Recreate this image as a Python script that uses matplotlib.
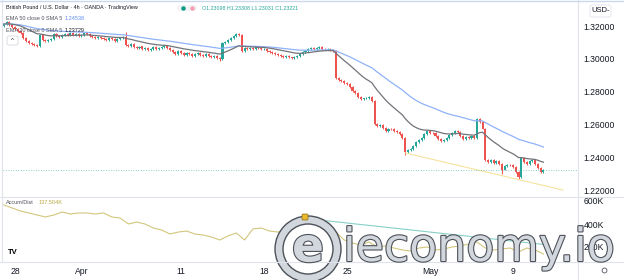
import numpy as np
import pandas as pd
import matplotlib
matplotlib.use('Agg')
import matplotlib.pyplot as plt
from matplotlib import patheffects
from matplotlib.patches import Circle, FancyBboxPatch

# GBPUSD 4h closes (one per candle)
closes = [
    1.3212, 1.3224, 1.3206, 1.3194,
    1.3182, 1.3170, 1.3157, 1.3127, 1.3109, 1.3096, 1.3090, 1.3084, 1.3078,
    1.3145,
    1.3115, 1.3109, 1.3115, 1.3121,
    1.3151,
    1.3140, 1.3133, 1.3145, 1.3150, 1.3142, 1.3155,
    1.3148, 1.3152, 1.3140, 1.3145, 1.3158, 1.3150,
    1.3138, 1.3130, 1.3124, 1.3133, 1.3127, 1.3120,
    1.3115, 1.3125, 1.3118, 1.3110, 1.3122, 1.3128, 1.3135,
    1.3084,
    1.3078, 1.3090, 1.3072, 1.3066, 1.3075, 1.3060, 1.3068, 1.3055, 1.3062, 1.3070, 1.3058, 1.3065,
    1.3070, 1.3078, 1.3064, 1.3052,
    1.3040, 1.3030, 1.3045, 1.3035, 1.3022, 1.3038, 1.3028, 1.3018, 1.3030, 1.3034, 1.3025, 1.3015,
    1.3030, 1.3020, 1.3008, 1.3015, 1.3002, 1.2998,
    1.3096,
    1.3100, 1.3115, 1.3128, 1.3140, 1.3150,
    1.3148,
    1.3050,
    1.3068, 1.3060, 1.3066, 1.3062, 1.3070, 1.3064, 1.3058, 1.3062,
    1.3050, 1.3042, 1.3038, 1.3030, 1.3024, 1.3020, 1.3012, 1.3018, 1.3008, 1.3004, 1.3010,
    1.3015, 1.3028, 1.3040, 1.3048, 1.3060, 1.3065, 1.3058, 1.3066,
    1.3070, 1.3062, 1.3058, 1.3060, 1.3052, 1.3048,
    1.2883,
    1.2870, 1.2862, 1.2850, 1.2845, 1.2830,
    1.2805, 1.2790, 1.2770, 1.2752,
    1.2758, 1.2762, 1.2770,
    1.2745,
    1.2600,
    1.2590, 1.2598, 1.2580, 1.2560, 1.2575, 1.2570, 1.2560, 1.2555, 1.2540,
    1.2520, 1.2430,
    1.2445, 1.2450, 1.2470, 1.2490, 1.2505, 1.2520,
    1.2540, 1.2560, 1.2550, 1.2545,
    1.2530, 1.2510, 1.2500, 1.2505,
    1.2520, 1.2535, 1.2545, 1.2560, 1.2555,
    1.2530, 1.2510, 1.2525, 1.2515, 1.2530,
    1.2515,
    1.2630, 1.2615, 1.2575,
    1.2385,
    1.2370, 1.2380, 1.2365, 1.2375, 1.2360,
    1.2325,
    1.2345, 1.2355, 1.2350, 1.2340,
    1.2310, 1.2280,
    1.2395,
    1.2370, 1.2360, 1.2375, 1.2380,
    1.2360, 1.2335, 1.2310,
    1.2322,
]
first_open = 1.3200
# notable wick extremes
high_marks = {44: 1.3163, 85: 1.3160, 171: 1.2640, 79: 1.3100}
low_marks = {145: 1.2415, 180: 1.2300, 186: 1.2265, 78: 1.2985}

# Accum/Dist, every third candle (K)
ad_idx = list(range(0, 196, 3))
ad_vals = [565, 539, 513, 496, 478, 461, 478, 504, 487, 496,
           496, 487, 496, 461, 452, 400, 417, 400, 365, 348,
           313, 330, 339, 313, 304, 287, 261, 296, 322, 261,
           357, 365, 339, 330, 348, 365, 417, 435, 417, 400,
           330, 261, 235, 217, 243, 200, 209, 191, 174, 165,
           191, 200, 174, 183, 200, 209, 226, 243, 191, 174,
           183, 191, 157, 191, 174, 139]

price_ticks = [1.22, 1.24, 1.26, 1.28, 1.30, 1.32]
ad_ticks = [200, 400, 600]
day_idx = [4, 28, 64, 94, 124, 154, 184]
day_labels = ['28', 'Apr', '11', '18', '25', 'May', '9']

trend_x, trend_y = [145, 202], [1.2426, 1.2200]
ad_trend_x, ad_trend_y = [114, 197], [435, 217]

W, H = 624, 280
UP, DOWN = '#26a69a', '#ef5350'
TXT = '#131722'
FONT = 'Liberation Sans'

fig = plt.figure(figsize=(W / 100, H / 100), dpi=100)


def box(x0, y0, x1, y1):
    return [x0 / W, 1 - y1 / H, (x1 - x0) / W, (y1 - y0) / H]


ax = fig.add_axes(box(3, 0, 578, 197))
adx = fig.add_axes(box(3, 197, 578, 262))

c = np.array(closes)
o = np.array([first_open] + closes[:-1])
idx = np.arange(len(c))
hi = np.maximum(o, c) + 0.0006
lo = np.minimum(o, c) - 0.0006
for k, v in high_marks.items():
    hi[k] = v
for k, v in low_marks.items():
    lo[k] = v
cols = np.where(c >= o, UP, DOWN)
body = np.maximum(np.abs(c - o), 0.00015)

ax.vlines(idx, lo, hi, colors=cols, lw=0.7)
ax.bar(idx, body, bottom=np.minimum(o, c), width=0.74, color=cols, linewidth=0)

s = pd.Series(c)
ema50 = s.ewm(span=50, adjust=False).mean()
ema20 = s.ewm(span=20, adjust=False).mean()
ax.plot(idx, ema50, color='#8fb2f8', lw=0.9)
ax.plot(idx, ema20, color='#707378', lw=0.9)
ax.plot(trend_x, trend_y, color='#f6e39c', lw=0.8)
ax.axhline(c[-1], color=UP, lw=0.6, ls=(0, (1, 2)), alpha=0.7)

ax.set_ylim(1.32 - 171 / 1640, 1.32 + 26 / 1640)
ax.set_xlim(-0.33, 207.5)
ax.yaxis.tick_right()
ax.set_yticks(price_ticks)
ax.set_yticklabels([f'{t:.5f}' for t in price_ticks])
ax.tick_params(axis='y', length=0, pad=4, labelsize=6.2, labelcolor=TXT)
ax.tick_params(axis='x', bottom=False, labelbottom=False)

adx.plot(ad_idx, ad_vals, color='#d2c67c', lw=0.8)
adx.plot(ad_trend_x, ad_trend_y, color='#86d0c6', lw=0.8)
adx.set_ylim(600 - 61 * 200 / 23, 600 + 4 * 200 / 23)
adx.set_xlim(-0.33, 207.5)
adx.yaxis.tick_right()
adx.set_yticks(ad_ticks)
adx.set_yticklabels([f'{t}K' for t in ad_ticks])
adx.set_xticks(day_idx)
adx.set_xticklabels(day_labels)
adx.tick_params(axis='y', length=0, pad=4, labelsize=6.2, labelcolor=TXT)
adx.tick_params(axis='x', length=0, pad=3.5, labelsize=6.2, labelcolor=TXT)

for a in (ax, adx):
    for sp in a.spines.values():
        sp.set_visible(False)
    for lab in a.get_xticklabels() + a.get_yticklabels():
        lab.set_family(FONT)

# overlay in pixel coordinates
ov = fig.add_axes([0, 0, 1, 1])
ov.set_xlim(0, W)
ov.set_ylim(H, 0)
ov.axis('off')
ov.patch.set_alpha(0)

line = dict(color='#e0e3eb', lw=0.8)
ov.plot([578, 578], [0, 280], **line)
ov.plot([0, W], [197, 197], **line)
ov.plot([0, W], [262, 262], **line)
ov.plot([2, 2], [0, 262], **line)
ov.plot([0, W], [0.5, 0.5], color='#c9d7ef', lw=1)

ov.text(6, 8, 'British Pound / U.S. Dollar · 4h · OANDA · TradingView',
        fontsize=3.9, color=TXT, va='center', family=FONT)
ov.add_patch(FancyBboxPatch((177, 5), 20, 6, boxstyle='round,pad=0,rounding_size=3',
                            fc='#f2f3f5', ec='none'))
ov.plot([183], [8], 'o', ms=2.2, color='#089981')
ov.plot([192], [8], 'o', ms=2.2, color='#f7a1b3')
ov.text(202, 8, 'O1.23098 H1.23308 L1.23031 C1.23221', fontsize=3.8,
        color=UP, va='center', family=FONT)
ov.text(6, 19, 'EMA 50 close 0 SMA 5', fontsize=4, color='#50535e',
        va='center', family=FONT)
ov.text(65, 19, '1.24538', fontsize=4, color='#5d8df0', va='center', family=FONT)
ov.text(6, 30, 'EMA 20 close 0 SMA 5', fontsize=4, color='#50535e',
        va='center', family=FONT)
ov.text(65, 30, '1.23729', fontsize=4, color=TXT, va='center', family=FONT)
ov.add_patch(FancyBboxPatch((7, 36), 11, 9, boxstyle='round,pad=0,rounding_size=2',
                            fc='white', ec='#d6d8de', lw=0.6))
ov.text(12.5, 41, '^', fontsize=4.5, color=TXT, ha='center', va='center', family=FONT)

ov.add_patch(FancyBboxPatch((590, 5), 21, 12, boxstyle='round,pad=0,rounding_size=2',
                            fc='white', ec='#e0e3eb', lw=0.6))
ov.text(600.5, 11, 'USD-', fontsize=5.5, color=TXT, ha='center', va='center', family=FONT)

ov.text(6, 203, 'Accum/Dist', fontsize=4, color='#50535e', va='center', family=FONT)
ov.text(39, 203, '137.504K', fontsize=4, color='#b9a93e', va='center', family=FONT)
ov.text(13, 252, 'TV', fontsize=5.5, color='black', ha='center', va='center',
        fontweight='bold', family=FONT)
ov.plot([604], [270], 'o', ms=3.5, mfc='white', mec='#50535e', mew=0.6)

# watermark
edge = '#4d5159'
silver = '#d2d6dd'
ov.add_patch(Circle((308, 249), 33, fc=silver, ec=edge, lw=1.0))
ov.add_patch(Circle((308, 249), 25, fc='white', ec=edge, lw=1.0))
ov.text(308, 249, 'e', fontsize=34, fontweight='bold', color=silver, ha='center',
        va='center', family='DejaVu Sans',
        path_effects=[patheffects.withStroke(linewidth=1.6, foreground=edge)])
ov.add_patch(FancyBboxPatch((302, 214), 6, 6, boxstyle='round,pad=0,rounding_size=1',
                            fc='#e8b92c', ec='#8a6a10', lw=0.5))
ov.text(343, 261, 'ieconomy.io', fontsize=33, color=silver, ha='left', va='baseline',
        family='DejaVu Sans',
        path_effects=[patheffects.withStroke(linewidth=1.6, foreground=edge)])

fig.savefig('out.png', dpi=100)
